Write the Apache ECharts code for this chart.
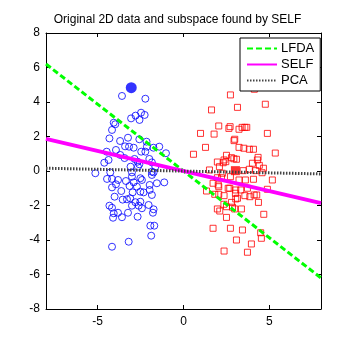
<!DOCTYPE html>
<html><head><meta charset="utf-8">
<script src="https://cdn.jsdelivr.net/npm/echarts@6/dist/echarts.min.js"></script>
<style>html,body{margin:0;padding:0;background:#fff}#c{width:355px;height:355px}</style>
</head><body><div id="c"></div>
<script>
const classBlue = [[-3.58,4.35],[-2.22,4.19],[-2.47,3.38],[-2.79,3.21],[-2.26,3.25],[-3.05,3.05],[-2.56,2.96],[-4.06,2.80],[-3.97,2.71],[-4.16,2.38],[-4.31,1.89],[-3.23,1.93],[-3.69,1.74],[-2.57,1.84],[-2.15,1.70],[-1.75,1.35],[-1.41,1.41],[-1.02,1.03],[-3.40,1.43],[-3.17,1.41],[-2.90,1.35],[-3.93,1.22],[-2.13,1.41],[-2.46,1.12],[-2.22,1.12],[-4.47,1.12],[-3.68,0.93],[-4.36,0.64],[-4.61,0.48],[-3.43,0.75],[-2.85,0.70],[-2.67,0.54],[-2.57,0.39],[-1.99,0.70],[-1.84,0.50],[-3.08,0.25],[-1.64,0.25],[-5.13,-0.13],[-4.26,-0.08],[-3.00,-0.08],[-1.74,-0.08],
[-2.65,0.25],[-4.45,-0.46],[-4.16,-0.46],[-3.81,-0.52],[-3.00,-0.33],[-3.35,-0.58],[-2.90,-0.66],[-2.42,-0.52],[-1.84,-0.23],[-1.55,-0.71],[-1.12,-0.66],[-3.93,-0.77],[-4.16,-0.95],[-3.14,-0.87],[-2.71,-0.91],[-1.97,-0.81],[-3.62,-1.16],[-2.96,-1.24],[-2.51,-1.20],[-2.32,-1.24],[-1.97,-1.10],[-1.84,-1.39],[-4.01,-1.49],[-3.54,-1.66],[-3.29,-1.64],[-3.10,-1.58],[-2.80,-1.81],[-2.51,-1.78],[-3.00,-2.01],[-2.61,-2.01],[-2.42,-2.16],[-2.03,-1.97],[-4.31,-2.01],[-4.16,-2.13],[-1.74,-2.22],[-1.78,-2.42],[-3.81,-2.42],[-4.06,-2.45],[-4.10,-2.71],[-3.58,-2.68],[-3.23,-2.42],[-2.67,-2.65],[-1.93,-3.17],[-1.70,-3.17],[-1.88,-3.75],[-3.19,-4.10],[-4.16,-4.39],[-2.51,-0.42],[-1.84,-0.04]];
const classRed = [[4.12,4.74],[2.73,4.41],[4.76,3.87],[3.14,3.69],[1.63,3.54],[2.05,2.61],[2.71,2.57],[2.64,2.47],[3.41,2.53],[3.57,2.53],[3.68,2.53],[3.23,2.42],[4.88,2.18],[0.99,2.18],[1.78,2.14],[2.98,1.84],[2.94,1.76],[1.28,1.37],[3.23,1.37],[3.51,1.32],[3.83,1.26],[4.07,1.26],[5.34,1.04],[0.58,0.97],[2.50,0.91],[2.79,0.77],[2.93,0.71],[3.08,0.68],[2.36,0.64],[2.46,0.54],[2.31,0.48],[1.97,0.52],[4.34,0.79],[4.30,0.64],[4.01,0.45],[4.41,0.33],[4.65,0.16],[2.09,0.25],[1.51,0.06],[3.47,0.02],[3.83,0.10],[4.20,0.02],[4.57,-0.10],[2.26,-0.13],
[2.21,-0.39],[1.97,-0.39],[2.73,-0.33],[3.23,-0.52],[3.60,-0.52],[4.07,-0.48],[5.17,-0.52],[1.72,-0.71],[2.02,-0.81],[2.05,-0.91],[2.60,-1.00],[2.69,-1.00],[3.04,-1.10],[3.33,-1.10],[3.72,-1.00],[4.88,-1.06],[1.34,-1.16],[1.82,-1.35],[2.05,-1.35],[2.36,-1.43],[3.02,-1.29],[3.14,-1.58],[3.04,-1.62],[3.57,-1.43],[3.86,-1.49],[4.11,-1.39],[4.26,-1.39],[4.36,-1.82],[2.35,-1.93],[2.50,-2.07],[2.85,-2.10],[2.79,-1.82],[2.98,-2.20],[3.37,-2.20],[1.97,-2.20],[2.11,-2.32],[2.50,-2.69],[4.67,-2.51],[1.72,-3.32],[2.73,-3.32],[3.43,-3.42],[4.49,-3.58],[3.08,-4.00],[3.95,-4.23],[4.53,-3.90],[2.36,-4.64],[3.72,-4.71]];
const meanBlue = [[-3.04,4.83]];
const meanRed = [[3.02,0.02]];
const lineLFDA = [[-8,6.2],[8,-6.2]];
const lineSELF = [[-8,1.86],[8,-1.86]];
const linePCA = [[-8,0.16],[8,-0.17]];
const xTicks = [-5,0,5];
const yTicks = [-8,-6,-4,-2,0,2,4,6,8];

const font = 'Liberation Sans, Arial, sans-serif';
const chart = echarts.init(document.getElementById('c'));
const xBase = {type:'value',min:-8,max:8,splitLine:{show:false},
  axisLine:{show:true,onZero:false,lineStyle:{color:'#000',width:1}},
  axisTick:{show:true,inside:true,length:4,customValues:xTicks,lineStyle:{color:'#000'}}};
const yBase = {type:'value',min:-8,max:8,interval:2,splitLine:{show:false},
  axisLine:{show:true,onZero:false,lineStyle:{color:'#000',width:1}},
  axisTick:{show:true,inside:true,length:4,lineStyle:{color:'#000'}}};
chart.setOption({
  animation:false,
  backgroundColor:'#fff',
  title:{text:'Original 2D data and subspace found by SELF',left:'center',top:9,
    textStyle:{fontFamily:font,fontSize:12,fontWeight:'normal',color:'#000'}},
  grid:{left:46,right:34,top:33,bottom:46},
  legend:{data:['LFDA','SELF','PCA'],orient:'vertical',left:240,top:38,
    padding:[4,6,4,6],itemGap:3,itemWidth:30,itemHeight:12,
    itemStyle:{opacity:0},
    backgroundColor:'#fff',borderColor:'#000',borderWidth:1,borderRadius:0,
    textStyle:{fontFamily:font,fontSize:13,color:'#000',padding:[0,0,0,-1]}},
  xAxis:[Object.assign({},xBase,{position:'bottom',
      axisLabel:{customValues:xTicks,fontFamily:font,fontSize:12,color:'#000',margin:7}}),
    Object.assign({},xBase,{position:'top',axisLabel:{show:false}})],
  yAxis:[Object.assign({},yBase,{position:'left',
      axisLabel:{fontFamily:font,fontSize:12,color:'#000',margin:6}}),
    Object.assign({},yBase,{position:'right',axisLabel:{show:false}})],
  series:[
    {type:'scatter',data:classBlue,symbol:'circle',symbolSize:7,silent:true,
      itemStyle:{color:'none',borderColor:'#0000ff',borderWidth:1}},
    {type:'scatter',data:classRed,symbol:'rect',symbolSize:6,silent:true,
      itemStyle:{color:'none',borderColor:'#ff0000',borderWidth:1}},
    {type:'scatter',data:meanBlue,symbol:'circle',symbolSize:11,silent:true,
      itemStyle:{color:'#0000ff'}},
    {type:'scatter',data:meanRed,symbol:'rect',symbolSize:9,silent:true,
      itemStyle:{color:'#ff0000'}},
    {name:'LFDA',type:'line',data:lineLFDA,symbol:'none',silent:true,
      lineStyle:{color:'#00ff00',width:3,type:[6,3]},itemStyle:{color:'#00ff00'}},
    {name:'SELF',type:'line',data:lineSELF,symbol:'none',silent:true,
      lineStyle:{color:'#ff00ff',width:4,type:'solid'},itemStyle:{color:'#ff00ff'}},
    {name:'PCA',type:'line',data:linePCA,symbol:'none',silent:true,
      lineStyle:{color:'#444',width:3,type:[1.5,1.5]},itemStyle:{color:'#444'}}
  ]
});
</script></body></html>
